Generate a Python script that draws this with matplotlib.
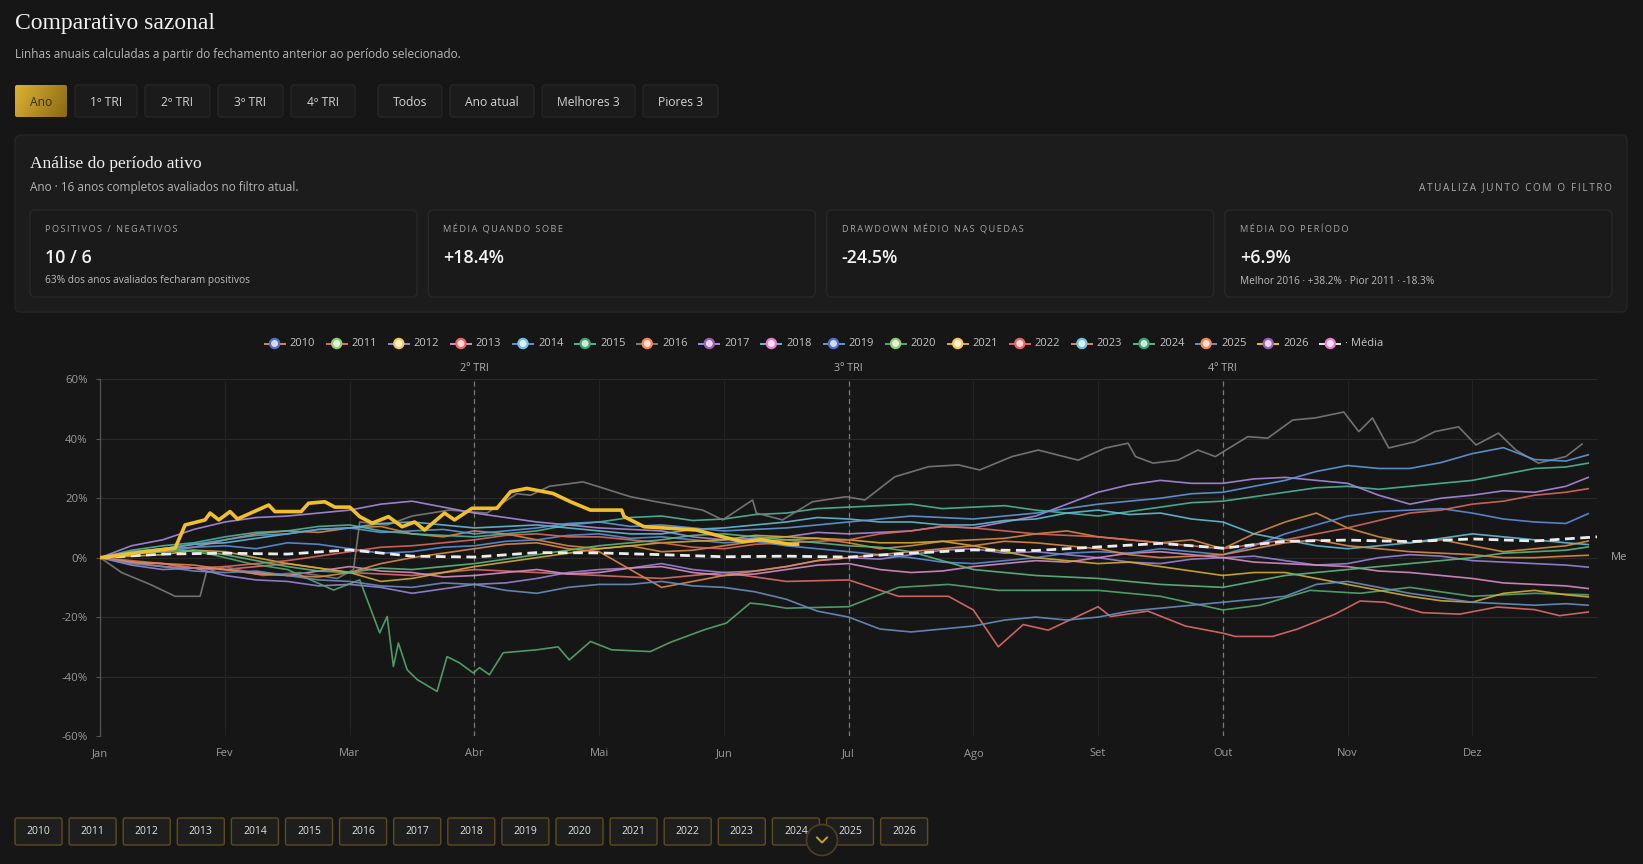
import matplotlib
matplotlib.use('Agg')
import matplotlib.pyplot as plt
from matplotlib.patches import FancyBboxPatch, Circle
from matplotlib.colors import LinearSegmentedColormap, to_rgb
import numpy as np

W, H = 1643, 864

# ---- dados (retorno acumulado em %) ----
meses = ['Jan', 'Fev', 'Mar', 'Abr', 'Mai', 'Jun', 'Jul', 'Ago', 'Set', 'Out', 'Nov', 'Dez']
trimestres = [(3, '2º TRI'), (6, '3º TRI'), (9, '4º TRI')]

# grade de quarto em quarto de mes (posicao em meses desde 1 jan)
grade = [0, 0.25, 0.5, 0.75, 1, 1.25, 1.5, 1.75, 2, 2.25, 2.5, 2.75, 3, 3.25, 3.5, 3.75,
         4, 4.25, 4.5, 4.75, 5, 5.25, 5.5, 5.75, 6, 6.25, 6.5, 6.75, 7, 7.25, 7.5, 7.75,
         8, 8.25, 8.5, 8.75, 9, 9.25, 9.5, 9.75, 10, 10.25, 10.5, 10.75, 11, 11.25, 11.5, 11.75, 11.93]

v2010 = [0, 2, 3, 3.5, 6, 8, 9, 8.5, 10, 10.5, 8, 7, 9, 8, 6, 4, 3, 4, 2, 2.5, 4, 5.5, 6, 6.5, 5,
         3, 4, 5.5, 6, 6.5, 8, 9, 7, 6, 5, 6, 3, 8, 12, 15, 10, 7, 5, 6, 4, 2, 3, 4, 5.6]
v2012 = [0, -2.5, -4, -3.5, -6, -7.5, -8, -9.5, -9, -10, -12, -10.5, -9, -8.5, -7, -5, -4, -3.5, -2, -4,
         -5, -4.5, -3, -1, 0, -0.5, 1, 2.5, 3, 1.5, 2, 1, 0, -1.5, -2, -0.5, 0, 0.5, -1, -2.5,
         -2, 0, 1, 0.5, -1, -1.5, -2, -2.5, -3.2]
v2013 = [0, -1.5, -2, -3.5, -4, -5, -6, -4.5, -3, -4.5, -5, -6.5, -6, -5, -4, -5.5, -5, -3.5, -3, -5,
         -6, -5.5, -4, -2.5, -2, -4, -5, -4.5, -3, -2, -1, -1.5, 0, 1.5, 2, 1, 0, -1.5, -2, -2.5,
         -3, -4.5, -5, -6, -7, -8.5, -9, -9.5, -10.4]
v2014 = [0, 1.5, 2, 3.5, 4, 3, 5, 4.5, 3, 1.5, 2, 3.5, 4, 5.5, 6, 7.5, 8, 6.5, 7, 6, 5, 5.5, 4, 3,
         2, 1, 0, -1.5, -2, -1, 0, 1.5, 2, 1.5, 3, 2, 1, 4, 8, 11, 14, 15.5, 16, 16.5, 15, 13, 12, 11.5, 14.8]
v2015 = [0, 2.5, 4, 5, 7, 8.5, 9, 10.5, 11, 9, 8, 7.5, 7, 8, 9, 11, 12, 13.5, 14, 12.5, 13, 14.5, 15,
         16.5, 17, 17.5, 18, 16.5, 17, 17.5, 16, 15, 14, 15.5, 17, 18.5, 19, 20.5, 22, 23.5, 24, 23,
         24, 25, 26, 28, 30, 30.5, 31.8]
v2017 = [0, 4, 6, 9.5, 12, 13.5, 14, 15, 16, 18, 19, 17, 15, 13.5, 12, 11, 10, 9.5, 9, 7, 6, 6.5, 7,
         8.5, 8, 8.5, 9, 10.5, 10, 12, 14, 18, 22, 24.5, 26, 25, 25, 26.5, 27, 26, 25, 21, 18, 20, 21,
         22.5, 22, 24, 27.0]
v2018 = [0, 1, 3, 4.5, 5, 6.5, 8, 9.5, 10, 11.5, 12, 11, 10, 10.5, 11, 10, 9, 8, 8, 9.5, 10, 11, 12,
         13.5, 13, 12, 12, 11, 11, 12.5, 13, 15, 16, 14.5, 15, 13, 12, 8, 6, 4, 3, 4, 5, 6.5, 8, 7, 6, 5, 4.4]
v2019 = [0, 2, 3, 4.5, 6, 7.5, 8, 9.5, 10, 8.5, 9, 9.5, 8, 9, 10, 11.5, 12, 10.5, 11, 10, 9, 9.5, 10,
         11, 12, 13, 14, 13.5, 13, 14, 15, 16.5, 18, 19, 20, 21.5, 22, 24, 26, 29, 31, 30, 30, 32, 35,
         37, 33, 32.5, 34.6]
v2021 = [0, 0.5, 1, 2.5, 2, 0, -2, -3.5, -5, -8, -7, -5, -3, -1.5, 0, 1.5, 3, 4, 5, 5.5, 6, 7.5, 7,
         6.5, 6, 5, 5, 5.5, 4, 2, 0, -1, -2, -1.5, -3, -4.5, -6, -5, -5, -7, -9, -11, -13, -14.5, -15,
         -12, -11, -12.5, -13.2]
v2022 = [0, -1, -2, -3.5, -3, -2, -1, 0.5, 2, 3.5, 4, 5, 6, 7.5, 8, 7, 7, 6, 5, 3.5, 3, 4.5, 5, 5.5,
         6, 8, 9, 10.5, 10, 9, 8, 7.5, 7, 6, 5, 4, 3, 4.5, 6, 8, 10, 12.5, 15, 16, 18, 19, 21, 22, 23.2]
v2023 = [0, -1.5, -2, -2.5, -4, -5.5, -6, -6.5, -5, -2, 0, 1.5, 3, 4.5, 5, 3, 2, -4, -10, -8, -6, -4.5,
         -3, -1, 0, 1, 2, 3, 4, 5.5, 5, 4, 3, 1, 0, 0.5, 1, 3, 5, 6, 4, 3, 2, 1.5, 1, 0, 0, 0.5, 0.8]
v2024 = [0, 1.5, 2, 2.5, 1, -1, -3, -4.5, -5, -3.5, -4, -3, -2, -0.5, 1, 2.5, 4, 5, 6, 7.5, 8, 7, 6, 5,
         4, 3.5, 2, -1, -4, -5, -6, -6.5, -7, -8, -9, -9.5, -10, -8, -6, -5, -4, -3, -2, -1, 0, 1.5, 2, 2.5, 3.6]
v2025 = [0, -2, -3, -4.5, -5, -4.5, -6, -7.5, -8, -9.5, -10, -8.5, -9, -11, -12, -10, -9, -9, -8, -9.5,
         -10, -11.5, -14, -18, -20, -24, -25, -24, -23, -21, -20, -21, -20, -18, -17, -16, -15, -14, -13,
         -9, -8, -10, -12, -13.5, -15, -15.5, -16, -15.5, -16.0]

# anos com trajetoria mais marcante, lidos com pontos proprios
x2011 = [0, 0.5, 1, 1.5, 2, 2.5, 3, 3.5, 4, 4.5, 5, 5.5, 6, 6.4, 6.8, 7.0, 7.2, 7.4, 7.6,
         8.0, 8.1, 8.4, 8.7, 9.0, 9.1, 9.4, 9.6, 9.9, 10.1, 10.3, 10.6, 10.9, 11.2, 11.5, 11.7, 11.93]
v2011 = [0, -3, -4, -2, -5, -6, -4, -5, -6, -7, -5, -8, -7.5, -13, -13, -17.6, -30, -22.5, -24.4,
         -16.5, -19.8, -18, -23, -25.4, -26.5, -26.5, -24, -19, -14.6, -15, -18.5, -19, -16.6, -17.5, -19.5, -18.3]

x2016 = [0, 0.17, 0.4, 0.6, 0.8, 0.85, 1.0, 1.3, 1.6, 1.9, 2.03, 2.08, 2.3, 2.5, 2.8, 3.1, 3.34, 3.45,
         3.6, 3.87, 4.03, 4.25, 4.46, 4.83, 4.99, 5.23, 5.26, 5.47, 5.71, 5.98, 6.13, 6.37, 6.64, 6.88,
         7.05, 7.31, 7.52, 7.84, 8.06, 8.24, 8.30, 8.44, 8.64, 8.80, 8.94, 9.2, 9.36, 9.56, 9.74, 9.97,
         10.09, 10.2, 10.33, 10.54, 10.7, 10.89, 11.03, 11.21, 11.35, 11.53, 11.75, 11.88]
v2016 = [0, -5, -9, -13, -13, -5, -3, -6, -5, -7, -4, 12, 11, 14, 16, 15, 21.5, 21,
         24, 25.5, 23.4, 20.5, 18.8, 16, 12.7, 19.4, 15, 12.7, 18.8, 20.5, 19.4, 27.2, 30.6, 31.2,
         29.5, 34, 36.2, 32.8, 36.9, 38.5, 34, 31.8, 32.8, 36.2, 34, 40.7, 40.2, 46.3, 47, 49,
         42.4, 47, 36.9, 39, 42.4, 44, 37.9, 41.9, 36.2, 31.8, 34, 38.2]

x2020 = [0, 0.3, 0.6, 0.9, 1.2, 1.5, 1.87, 2.08, 2.24, 2.3, 2.35, 2.39, 2.46, 2.54, 2.70, 2.78, 2.88,
         2.99, 3.04, 3.12, 3.23, 3.5, 3.67, 3.76, 3.93, 4.1, 4.41, 4.57, 4.84, 5.02, 5.21, 5.31, 5.5,
         6.0, 6.4, 6.8, 7.2, 7.6, 8.0, 8.5, 9.0, 9.3, 9.7, 10.1, 10.5, 11.0, 11.5, 11.93]
v2020 = [0, 2, 3, 1, -2, -4, -10.9, -7.5, -25.3, -19.8, -36.6, -28.7, -37.7, -41, -45, -33.3, -35.4,
         -38.8, -37, -39.4, -32, -31, -30, -34.4, -28.2, -31, -31.6, -28.5, -24.3, -22, -15.3, -15.7, -17,
         -16.5, -10, -9, -11, -11, -11, -13, -17.6, -16, -11, -12, -10, -13, -12, -12.5]

x2026 = [0, 0.36, 0.6, 0.68, 0.84, 0.88, 0.95, 1.04, 1.1, 1.35, 1.4, 1.61, 1.67, 1.8, 1.88, 2.0,
         2.08, 2.18, 2.31, 2.42, 2.52, 2.6, 2.76, 2.84, 2.98, 3.18, 3.29, 3.42, 3.63, 3.77, 3.93,
         4.18, 4.2, 4.36, 4.52, 4.78, 4.99, 5.15, 5.3, 5.53, 5.59]
v2026 = [0, 2, 3.2, 11, 12.7, 15, 12.7, 15.5, 13, 17.7, 15.5, 15.5, 18.3, 18.8, 17, 17,
         13.8, 11.6, 13.8, 10.4, 12, 9.3, 15, 12.7, 16.6, 16.6, 22.2, 23.3, 21.6, 18.8, 16,
         16, 13.8, 10.4, 10, 9.3, 7, 5.4, 6, 4.5, 4.5]

x_media = [0, 0.5, 1, 1.5, 2, 2.5, 3, 3.5, 4, 4.5, 5, 5.5, 6, 6.5, 7, 7.5,
           8, 8.5, 9, 9.5, 10, 10.5, 11, 11.5, 12]
v_media = [0, 1.2, 1.5, 1.2, 2.6, 0.5, 0.2, 1.7, 1.6, 1.0, 0.3, 0.5, 0.2, 1.5, 2.6, 2.4,
           3.6, 4.8, 3.2, 5.5, 5.9, 5.4, 6.3, 5.6, 7.0]

anos = list(range(2010, 2027))
series = {
    2010: (grade, v2010), 2011: (x2011, v2011), 2012: (grade, v2012), 2013: (grade, v2013),
    2014: (grade, v2014), 2015: (grade, v2015), 2016: (x2016, v2016), 2017: (grade, v2017),
    2018: (grade, v2018), 2019: (grade, v2019), 2020: (x2020, v2020), 2021: (grade, v2021),
    2022: (grade, v2022), 2023: (grade, v2023), 2024: (grade, v2024), 2025: (grade, v2025),
    2026: (x2026, v2026),
}
cores_linha = {
    2010: '#d98b3a', 2011: '#e06c6c', 2012: '#9b84d8', 2013: '#d98cc4', 2014: '#5b8fd9',
    2015: '#4cb89a', 2016: '#7c7c7c', 2017: '#a98be0', 2018: '#63bcd6', 2019: '#5f9ad8',
    2020: '#55a872', 2021: '#d4ad2e', 2022: '#d96a5a', 2023: '#e08a45', 2024: '#5cb87f',
    2025: '#6a8fc0', 2026: '#f2bf2c',
}
paleta = ['#5470c6', '#91cc75', '#fac858', '#ee6666', '#73c0de',
          '#3ba272', '#fc8452', '#9a60b4', '#ea7ccc']

botoes = ['Ano', '1º TRI', '2º TRI', '3º TRI', '4º TRI', 'Todos', 'Ano atual', 'Melhores 3', 'Piores 3']
larg_botoes = [52, 62, 65, 65, 64, 64, 84, 93, 75]

cards_rotulo = ['POSITIVOS / NEGATIVOS', 'MÉDIA QUANDO SOBE', 'DRAWDOWN MÉDIO NAS QUEDAS', 'MÉDIA DO PERÍODO']
cards_valor = ['10 / 6', '+18.4%', '-24.5%', '+6.9%']
cards_nota = ['63% dos anos avaliados fecharam positivos', '', '',
              'Melhor 2016 · +38.2% · Pior 2011 · -18.3%']

# ---- estilo ----
BG = '#161616'
SANS = ['Open Sans', 'DejaVu Sans']
SERIF = ['Liberation Serif', 'DejaVu Serif']


def espacado(s):
    return '\u2009'.join(s)


def caixa(ax, x0, y0, x1, y1, fc, ec, r=4, lw=1.0, z=1):
    p = FancyBboxPatch((x0, y0), x1 - x0, y1 - y0, boxstyle=f'round,pad=0,rounding_size={r}',
                       fc=fc, ec=ec, lw=lw, zorder=z)
    ax.add_patch(p)
    return p


def clarear(c, f):
    r, g, b = to_rgb(c)
    return (r + (1 - r) * f, g + (1 - g) * f, b + (1 - b) * f)


fig = plt.figure(figsize=(W / 100, H / 100), dpi=100)
fig.patch.set_facecolor(BG)

ui = fig.add_axes([0, 0, 1, 1])
ui.set_xlim(0, W)
ui.set_ylim(H, 0)
ui.axis('off')

# cabecalho
ui.text(15, 23, 'Comparativo sazonal', family=SERIF, fontsize=17, color='#f2f2f2', va='center')
ui.text(15, 54.5, 'Linhas anuais calculadas a partir do fechamento anterior ao período selecionado.',
        family=SANS, fontsize=8.5, color='#b8b8b8', va='center')

# botoes de filtro
x = 15
for i, (txt, w) in enumerate(zip(botoes, larg_botoes)):
    if i == 5:
        x += 15
    if i == 0:
        p = caixa(ui, x, 85, x + w, 117, 'none', 'none', r=2, z=2)
        ouro = LinearSegmentedColormap.from_list('ouro', ['#dcb235', '#8a6a12'])
        gx, gy = np.meshgrid(np.linspace(0, 1, 60), np.linspace(0, 1, 30))
        im = ui.imshow(gx * 0.75 + gy * 0.25, extent=(x, x + w, 117, 85), cmap=ouro, aspect='auto', zorder=2)
        im.set_clip_path(p)
        ui.text(x + w / 2, 102, txt, family=SANS, fontsize=8.7, color='#3a2c05', ha='center', va='center', zorder=3)
    else:
        caixa(ui, x, 85, x + w, 117, '#1b1b1b', '#262626', r=3)
        ui.text(x + w / 2, 102, txt, family=SANS, fontsize=8.7, color='#d4d4d4', ha='center', va='center')
    x += w + 8
ui.set_xlim(0, W)
ui.set_ylim(H, 0)

# painel de analise
caixa(ui, 15, 135, 1627, 312, '#1c1c1c', '#262626', r=6)
ui.text(30, 164, 'Análise do período ativo', family=SERIF, fontsize=12.5, color='#f0f0f0', va='center')
ui.text(30, 187, 'Ano · 16 anos completos avaliados no filtro atual.', family=SANS, fontsize=8.5,
        color='#b5b5b5', va='center')
ui.text(1612, 188, espacado('ATUALIZA JUNTO COM O FILTRO'), family=SANS, fontsize=7.2,
        color='#aaaaaa', va='center', ha='right')
for i in range(4):
    x0 = 30 + i * 398.3
    caixa(ui, x0, 210, x0 + 387, 297, '#1a1a1a', '#282828', r=5)
    ui.text(x0 + 15, 230, espacado(cards_rotulo[i]), family=SANS, fontsize=6.6, color='#a6a6a6', va='center')
    ui.text(x0 + 15, 258, cards_valor[i], family=SANS, fontsize=12.8, fontweight='semibold',
            color='#f4f4f4', va='center')
    if cards_nota[i]:
        ui.text(x0 + 15, 281, cards_nota[i], family=SANS, fontsize=7.3, color='#bdbdbd', va='center')

# legenda
rotulos = [str(a) for a in anos] + ['· Média']
for i, rot in enumerate(rotulos):
    xl = 274.6 + i * 62.1
    cl = cores_linha[anos[i]] if i < len(anos) else '#e6e6e6'
    cm = paleta[i % len(paleta)]
    ui.plot([xl - 11, xl + 11], [343.5, 343.5], color=cl, lw=1.4, solid_capstyle='butt')
    ui.add_patch(Circle((xl, 343.5), 4.6, fc=clarear(cm, 0.75), ec=cm, lw=1.6, zorder=3))
    ui.text(xl + 15, 343.5, rot, family=SANS, fontsize=8.0, color='#c4c4c4', va='center')

# anos na base
for i, a in enumerate(anos):
    x0 = 15 + i * 54.1
    caixa(ui, x0, 818, x0 + 47, 845, '#1e1e1e', '#5e4c1f', r=2, lw=1.0)
    ui.text(x0 + 23.5, 831.5, str(a), family=SANS, fontsize=7.5, color='#e2e2e2', ha='center', va='center')
ui.add_patch(Circle((822, 840), 15.5, fc='#1b1b1b', ec='#4d4020', lw=1.2, zorder=4))
ui.plot([817, 822, 827], [837.5, 842.5, 837.5], color='#c9a227', lw=1.4, zorder=5)

# ---- grafico ----
ax = fig.add_axes([100.3 / W, 1 - 736 / H, (1597 - 100.3) / W, (736 - 379.3) / H])
ax.set_facecolor('none')
ax.set_xlim(0, 12)
ax.set_ylim(-60, 60)

for yy in range(-60, 61, 20):
    ax.axhline(yy, color='#2a2a2a', lw=0.8, zorder=0)
for m in range(1, 13):
    ax.axvline(m, color='#222222', lw=0.8, zorder=0)
for q, rot in trimestres:
    ax.axvline(q, color='#7a7a7a', lw=0.9, dashes=(4, 3), zorder=1)
    ax.text(q, 63.8, rot, ha='center', va='center', family=SANS, fontsize=7.8, color='#b0b0b0', clip_on=False)

for a in anos[:-1]:
    xs, vs = series[a]
    ax.plot(xs, vs, color=cores_linha[a], lw=1.2, alpha=0.9, zorder=2)
ax.plot(x_media, v_media, color='#ececec', lw=2.0, dashes=(3.5, 2), zorder=4)
xs, vs = series[2026]
ax.plot(xs, vs, color=cores_linha[2026], lw=2.6, zorder=5, solid_joinstyle='round')

ax.text(12.11, 0, 'Me', family=SANS, fontsize=8, color='#a8a8a8', va='center', ha='left', clip_on=False)

ax.set_xticks(range(12))
ax.set_xticklabels(meses)
ax.set_yticks(range(-60, 61, 20))
ax.set_yticklabels([f'{v}%' for v in range(-60, 61, 20)])
ax.tick_params(axis='x', length=0, pad=9, colors='#9a9a9a', labelsize=8.0)
ax.tick_params(axis='y', length=3, pad=6, colors='#9a9a9a', labelsize=8.2, color='#555555')
for lab in ax.get_xticklabels() + ax.get_yticklabels():
    lab.set_family(SANS)
for s in ['top', 'right', 'bottom']:
    ax.spines[s].set_visible(False)
ax.spines['left'].set_color('#555555')
ax.spines['left'].set_linewidth(0.9)

fig.savefig('out.png', dpi=100, facecolor=BG)
